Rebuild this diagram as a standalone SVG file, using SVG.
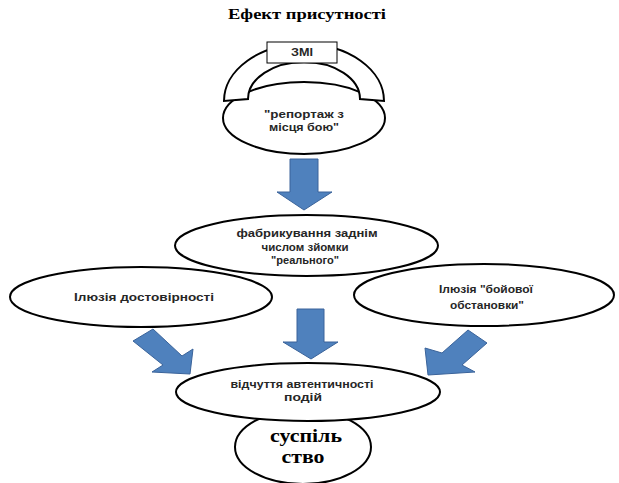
<svg xmlns="http://www.w3.org/2000/svg" width="619" height="483" viewBox="0 0 619 483">
<style>
.node{fill:#fff;stroke:#000;stroke-width:2}
.arrow{fill:#4F81BD;stroke:#3A639A;stroke-width:1}
.t{font-family:"Liberation Sans",Arial,sans-serif;font-weight:bold;font-size:11.5px;fill:#262626;text-anchor:middle}
.s{font-family:"Liberation Serif","Times New Roman",serif;font-weight:bold;fill:#000;text-anchor:middle}
</style>
<rect width="619" height="483" fill="#fff"/>
<text class="s" x="307" y="19" font-size="14" textLength="158" lengthAdjust="spacingAndGlyphs">Ефект присутності</text>

<g id="node-smi">
<ellipse class="node" cx="304" cy="118" rx="81" ry="36"/>
<path class="node" d="M224,101 A80,57 0 0 1 384,101 L360,99 A56,37 0 0 0 248,99 Z"/>
<rect x="267" y="42" width="70" height="21" fill="#fff" stroke="#000" stroke-width="1"/>
<text class="t" x="302" y="56" font-size="9" textLength="22" lengthAdjust="spacingAndGlyphs">ЗМІ</text>
<text class="t" x="304" y="118" textLength="80" lengthAdjust="spacingAndGlyphs">"репортаж з</text>
<text class="t" x="304" y="131" textLength="70" lengthAdjust="spacingAndGlyphs">місця бою"</text>
</g>

<g id="node-fabr">
<ellipse class="node" cx="306.5" cy="245.5" rx="131.5" ry="30.5"/>
<text class="t" x="307" y="237" textLength="141" lengthAdjust="spacingAndGlyphs">фабрикування заднім</text>
<text class="t" x="305" y="251" textLength="87" lengthAdjust="spacingAndGlyphs">числом зйомки</text>
<text class="t" x="305" y="264" textLength="68" lengthAdjust="spacingAndGlyphs">"реального"</text>
</g>

<g id="node-dostov">
<ellipse class="node" cx="141" cy="297" rx="131" ry="30"/>
<text class="t" x="144" y="301" textLength="140" lengthAdjust="spacingAndGlyphs">Ілюзія достовірності</text>
</g>

<g id="node-boyovoi">
<ellipse class="node" cx="484" cy="295" rx="130" ry="31"/>
<text class="t" x="486" y="293" textLength="94" lengthAdjust="spacingAndGlyphs">Ілюзія "бойової</text>
<text class="t" x="487" y="309" textLength="74" lengthAdjust="spacingAndGlyphs">обстановки"</text>
</g>

<g id="node-suspilstvo">
<ellipse class="node" cx="303" cy="447" rx="68" ry="37"/>
<text class="s" x="306" y="442" font-size="18" textLength="72" lengthAdjust="spacingAndGlyphs">суспіль</text>
<text class="s" x="303" y="463" font-size="18" textLength="43" lengthAdjust="spacingAndGlyphs">ство</text>
</g>

<g id="node-vidchuttia">
<ellipse class="node" cx="308" cy="392" rx="132" ry="29"/>
<text class="t" x="302" y="388" textLength="143" lengthAdjust="spacingAndGlyphs">відчуття автентичності</text>
<text class="t" x="303" y="401" textLength="38" lengthAdjust="spacingAndGlyphs">подій</text>
</g>

<g id="connectors">
<path class="arrow" d="M290,159 H318 V192 H332 L304,210 L277,192 H290 Z"/>
<path class="arrow" d="M297,309 H324 V342 H338 L311,359 L283,342 H297 Z"/>
<path class="arrow" d="M153,329 L182,356 L193,349 L190,374 L152,372 L163,365 L133,341 Z"/>
<path class="arrow" d="M468,330 L487,343 L462,365 L475,372 L428,375 L425,348 L442,353 Z"/>
</g>
</svg>
